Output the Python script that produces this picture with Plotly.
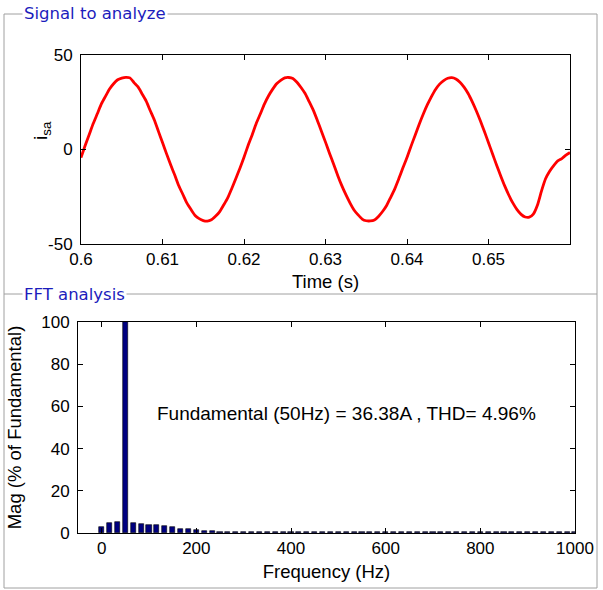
import numpy as np
import plotly.graph_objects as go

# ---------------- data ----------------
t_start = 0.6
t_step = 0.0005
isa = [
    -4.3, 2.0, 7.8, 13.7, 18.9, 24.1, 28.1, 32.0, 34.8, 36.9,
    37.8, 38.2, 37.9, 35.4, 33.1, 29.4, 25.6, 20.5, 15.6, 9.6,
    3.7, -2.3, -8.1, -13.5, -19.2, -23.8, -28.4, -31.8, -34.9, -36.6,
    -37.6, -37.9, -37.2, -35.3, -33.0, -29.4, -25.6, -20.6, -15.3, -9.9,
    -4.1, 2.1, 7.7, 13.8, 18.8, 24.0, 28.3, 31.8, 34.8, 36.6,
    37.9, 38.1, 37.6, 35.6, 32.8, 29.6, 25.3, 20.8, 15.4, 9.7,
    3.9, -2.1, -7.8, -13.7, -19.1, -23.9, -28.2, -32.0, -34.6, -36.8,
    -37.7, -37.8, -37.3, -35.4, -32.8, -29.6, -25.3, -20.8, -15.4, -9.7,
    -4.2, 1.8, 7.6, 13.4, 18.8, 23.7, 28.0, 31.8, 34.6, 36.5,
    37.7, 38.0, 37.3, 35.6, 33.0, 29.6, 25.3, 20.5, 15.2, 9.5,
    3.6, -2.4, -8.3, -14.0, -19.4, -24.2, -28.4, -31.8, -34.3, -35.7,
    -35.8, -34.2, -29.5, -22.0, -15.5, -11.5, -8.5, -6.0, -4.8, -3.0,
    -1.6,
]
time_s = np.round(t_start + t_step * np.arange(len(isa)), 4)

freq_step_hz = 50 / 3
mag_pct = [
    2.8, 4.9, 5.1, 100.0, 4.9, 4.3, 3.9, 3.6, 3.1, 2.9,
    2.1, 1.9, 1.6, 1.1, 0.8, 0.6, 0.6, 0.5, 0.5, 0.5,
    0.5, 0.5, 0.5, 0.5, 0.5, 0.5, 0.5, 0.5, 0.5, 0.5,
    0.5, 0.5, 0.5, 0.5, 0.5, 0.5, 0.5, 0.5, 0.5, 0.5,
    0.5, 0.5, 0.5, 0.5, 0.5, 0.5, 0.5, 0.5, 0.5, 0.5,
    0.5, 0.5, 0.5, 0.5, 0.5, 0.5, 0.5, 0.5, 0.5, 0.5,
    0.5,
]
freq_hz = freq_step_hz * np.arange(len(mag_pct))

top_yticks = [-50, 0, 50]
top_yticklabels = ["-50", "0", "50"]
top_xticks = [0.6, 0.61, 0.62, 0.63, 0.64, 0.65]
top_xticklabels = ["0.6", "0.61", "0.62", "0.63", "0.64", "0.65"]
bot_yticks = [0, 20, 40, 60, 80, 100]
bot_xticks = [0, 200, 400, 600, 800, 1000]

fund_text = "Fundamental (50Hz) = 36.38A , THD= 4.96%"

# ---------------- layout helpers ----------------
W, H = 603, 590
def px(x):
    return x / W
def py(y):
    return 1 - y / H

FONT = "Liberation Sans, Arial, sans-serif"
TICKFONT = dict(family=FONT, size=17, color="#000000")
TITLEFONT = dict(family=FONT, size=18.5, color="#000000")

fig = go.Figure()
fig.add_trace(go.Scatter(x=time_s, y=isa, mode="lines",
                         line=dict(color="#ff0000", width=2.8, shape="spline", smoothing=0.6),
                         xaxis="x", yaxis="y", showlegend=False))
fig.add_trace(go.Bar(x=freq_hz, y=mag_pct, width=11,
                     marker=dict(color="#000080", line=dict(color="#000000", width=0.6)),
                     xaxis="x2", yaxis="y2", showlegend=False))

axis_common = dict(showline=True, linecolor="#000000", linewidth=1, mirror="ticks",
                   ticks="inside", ticklen=5, tickcolor="#000000", showgrid=False,
                   zeroline=False, tickfont=TICKFONT, automargin=False)

fig.update_layout(
    width=W, height=H, margin=dict(l=0, r=0, t=0, b=0),
    paper_bgcolor="#ffffff", plot_bgcolor="#ffffff",
    xaxis=dict(domain=[px(81), px(570)], range=[0.6, 0.66], tickvals=top_xticks,
               ticktext=top_xticklabels, anchor="y",
               title=dict(text="Time (s)", font=TITLEFONT, standoff=6), **axis_common),
    yaxis=dict(domain=[py(244), py(55)], range=[-50, 50], tickvals=top_yticks,
               ticktext=top_yticklabels, anchor="x",
               ticklabelstandoff=4, **axis_common),
    xaxis2=dict(domain=[px(78), px(575)], range=[-50, 1000], tickvals=bot_xticks, anchor="y2",
                title=dict(text="Frequency (Hz)", font=TITLEFONT, standoff=7), **axis_common),
    yaxis2=dict(domain=[py(533), py(322)], range=[0, 100], tickvals=bot_yticks, anchor="x2",
                ticklabelstandoff=4,
                title=dict(text="Mag (% of Fundamental)", font=TITLEFONT, standoff=14),
                **axis_common),
    bargap=0,
)

# group boxes
GRAY = "#a0a0a0"
fig.add_shape(type="rect", xref="paper", yref="paper", x0=px(4), x1=px(597), y0=py(588), y1=py(14),
              line=dict(color=GRAY, width=1), fillcolor="rgba(0,0,0,0)", layer="below")
fig.add_shape(type="line", xref="paper", yref="paper", x0=px(4), x1=px(597), y0=py(294), y1=py(294),
              line=dict(color=GRAY, width=1), layer="below")

BOXFONT = dict(family="DejaVu Sans, Verdana, sans-serif", size=16.5, color="#1c1cbc")
fig.add_annotation(text="Signal to analyze", xref="paper", yref="paper", x=px(22), y=py(14),
                   xanchor="left", yanchor="middle", showarrow=False, font=BOXFONT,
                   bgcolor="#ffffff", borderpad=1)
fig.add_annotation(text="FFT analysis", xref="paper", yref="paper", x=px(22), y=py(294),
                   xanchor="left", yanchor="middle", showarrow=False, font=BOXFONT,
                   bgcolor="#ffffff", borderpad=1)

# top y label i_sa
fig.add_annotation(text="i<sub>sa</sub>", xref="paper", yref="paper", x=px(42), y=py(131),
                   xanchor="center", yanchor="middle", showarrow=False, textangle=-90,
                   font=dict(family=FONT, size=19, color="#000000"))

# fundamental / THD text
fig.add_annotation(text=fund_text, xref="paper", yref="paper", x=px(155), y=py(413),
                   xanchor="left", yanchor="middle", showarrow=False,
                   font=dict(family=FONT, size=19, color="#000000"))

fig.write_html("out.html", config={"displayModeBar": False},
               post_script="document.body.style.margin='0';document.body.style.overflow='hidden';")
